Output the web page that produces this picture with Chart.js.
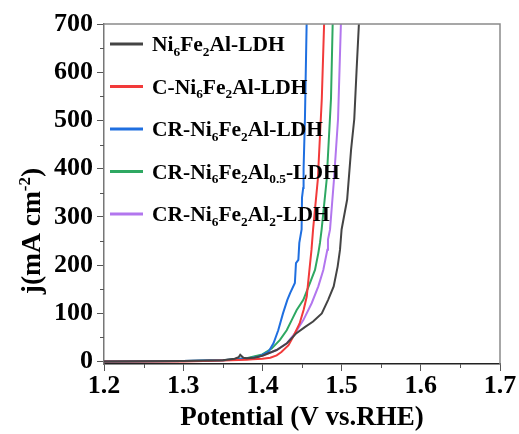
<!DOCTYPE html>
<html><head><meta charset="utf-8">
<script src="https://cdn.jsdelivr.net/npm/chart.js@4/dist/chart.umd.min.js"></script>
<style>html,body{margin:0;padding:0;background:#fff;}#wrap{width:519px;height:434px;}</style>
</head><body><div id="wrap"><canvas id="c" width="519" height="434"></canvas></div>
<script>
// ---- data ----
const seriesLabels = [
  "Ni_{6}Fe_{2}Al-LDH",
  "C-Ni_{6}Fe_{2}Al-LDH",
  "CR-Ni_{6}Fe_{2}Al-LDH",
  "CR-Ni_{6}Fe_{2}Al_{0.5}-LDH",
  "CR-Ni_{6}Fe_{2}Al_{2}-LDH"
];
const seriesColors = ["#444444", "#f23a3a", "#1f6fe0", "#2ea862", "#b276ee"];
const xTickValues = [1.2, 1.3, 1.4, 1.5, 1.6, 1.7];
const yTickValues = [0, 100, 200, 300, 400, 500, 600, 700];
const xTitle = "Potential (V vs.RHE)";
const yTitle = "j(mA cm^{-2})";

const ni_V = [1.20, 1.30, 1.35, 1.365, 1.370, 1.372, 1.376, 1.38, 1.39, 1.40, 1.418, 1.431, 1.443, 1.454, 1.464, 1.475, 1.483, 1.490, 1.495, 1.498, 1.500, 1.507, 1.512, 1.516, 1.519, 1.522];
const ni_J = [0, 1, 3, 6, 9, 14, 8, 7, 8, 12, 24, 38, 59, 72, 83, 100, 128, 156, 197, 232, 274, 336, 440, 503, 607, 705];

const c_V = [1.20, 1.30, 1.35, 1.38, 1.388, 1.40, 1.410, 1.418, 1.424, 1.433, 1.439, 1.447, 1.452, 1.456, 1.459, 1.462, 1.464, 1.470, 1.475, 1.478];
const c_J = [0, 0, 2, 4, 5, 6, 8, 13, 20, 34, 52, 79, 107, 135, 184, 232, 274, 378, 545, 705];

const cr_V = [1.20, 1.30, 1.35, 1.38, 1.395, 1.4075, 1.414, 1.420, 1.426, 1.4315, 1.435, 1.441, 1.4424, 1.4454, 1.4466, 1.4495, 1.4500, 1.4515, 1.4520, 1.4537, 1.4559];
const cr_J = [0, 1, 3, 6, 10, 20, 38, 65, 100, 128, 142, 163, 204, 211, 246, 274, 340, 360, 400, 503, 705];

const crA05_V = [1.20, 1.30, 1.35, 1.38, 1.40, 1.4117, 1.4222, 1.4307, 1.437, 1.4433, 1.4517, 1.4601, 1.4664, 1.4706, 1.4727, 1.4748, 1.4812, 1.4866, 1.4888];
const crA05_J = [0, 1, 3, 7, 15, 27, 45, 65, 86, 107, 128, 163, 190, 225, 246, 274, 378, 545, 705];

const crA2_V = [1.20, 1.30, 1.35, 1.3843, 1.4012, 1.418, 1.4307, 1.4412, 1.4517, 1.4622, 1.4706, 1.4769, 1.4820, 1.4828, 1.4854, 1.4904, 1.4955, 1.4992];
const crA2_J = [0, 1, 3, 8, 13, 24, 38, 59, 86, 121, 156, 190, 232, 253, 274, 378, 503, 705];

const seriesV = [ni_V, c_V, cr_V, crA05_V, crA2_V];
const seriesJ = [ni_J, c_J, cr_J, crA05_J, crA2_J];

// ---- helpers ----
const FONT = "'Liberation Serif', 'Times New Roman', serif";
function parseRich(str){
  const segs = []; const re = /([_^])\{([^}]*)\}/g; let last = 0, m;
  while ((m = re.exec(str))){
    if (m.index > last) segs.push({t: str.slice(last, m.index), k: null});
    segs.push({t: m[2], k: m[1] === '_' ? 'sub' : 'sup'});
    last = re.lastIndex;
  }
  if (last < str.length) segs.push({t: str.slice(last), k: null});
  return segs;
}
function richWidth(ctx, segs, size){
  let w = 0;
  for (const s of segs){
    ctx.font = "bold " + (s.k ? size*0.62 : size) + "px " + FONT;
    w += ctx.measureText(s.t).width;
  }
  return w;
}
function drawRich(ctx, str, x, y, size, align){
  const segs = parseRich(str);
  let cx = x;
  if (align === 'center') cx = x - richWidth(ctx, segs, size)/2;
  ctx.textBaseline = 'alphabetic'; ctx.textAlign = 'left';
  for (const s of segs){
    const sz = s.k ? size*0.62 : size;
    ctx.font = "bold " + sz + "px " + FONT;
    const dy = s.k === 'sub' ? size*0.22 : (s.k === 'sup' ? -size*0.38 : 0);
    ctx.fillText(s.t, cx, y + dy);
    cx += ctx.measureText(s.t).width;
  }
}

const datasets = seriesLabels.map((lab, i) => ({
  label: lab,
  data: seriesV[i].map((v, k) => ({x: v, y: seriesJ[i][k]})),
  borderColor: seriesColors[i],
  backgroundColor: seriesColors[i],
  borderWidth: 2,
  pointRadius: 0,
  tension: 0,
  fill: false
}));

const decor = {
  id: 'decor',
  afterDraw(chart){
    const ctx = chart.ctx, a = chart.chartArea;
    const xs = chart.scales.x, ys = chart.scales.y;
    ctx.save();
    // frame top/right
    ctx.strokeStyle = '#8a8a8a'; ctx.lineWidth = 1.5;
    ctx.beginPath();
    ctx.moveTo(a.left, a.top); ctx.lineTo(a.right, a.top); ctx.lineTo(a.right, a.bottom);
    ctx.stroke();
    // minor ticks
    ctx.strokeStyle = '#555'; ctx.lineWidth = 1;
    for (let i = 0; i < yTickValues.length - 1; i++){
      const v = (yTickValues[i] + yTickValues[i+1]) / 2;
      const py = Math.round(ys.getPixelForValue(v)) + 0.5;
      ctx.beginPath(); ctx.moveTo(a.left, py); ctx.lineTo(a.left - 4, py); ctx.stroke();
    }
    for (let i = 0; i < xTickValues.length - 1; i++){
      const v = (xTickValues[i] + xTickValues[i+1]) / 2;
      const px = Math.round(xs.getPixelForValue(v)) + 0.5;
      ctx.beginPath(); ctx.moveTo(px, a.bottom); ctx.lineTo(px, a.bottom + 4); ctx.stroke();
    }
    // legend
    chart.data.datasets.forEach((ds, i) => {
      const y = 44 + i * 42.5;
      ctx.strokeStyle = ds.borderColor; ctx.lineWidth = 3;
      ctx.beginPath(); ctx.moveTo(110, y); ctx.lineTo(143, y); ctx.stroke();
      ctx.fillStyle = '#000';
      drawRich(ctx, ds.label, 152, y + 7, 21.5, 'left');
    });
    // y title
    ctx.translate(40, 231); ctx.rotate(-Math.PI/2);
    ctx.fillStyle = '#000';
    drawRich(ctx, yTitle, 0, 0, 27.5, 'center');
    ctx.restore();
  }
};

new Chart(document.getElementById('c'), {
  type: 'line',
  data: { datasets },
  options: {
    responsive: false, animation: false, devicePixelRatio: 1,
    layout: { padding: { top: 24, right: 19, left: 0, bottom: 0 } },
    plugins: { legend: { display: false }, tooltip: { enabled: false } },
    scales: {
      x: {
        type: 'linear', min: xTickValues[0], max: xTickValues[xTickValues.length-1],
        afterBuildTicks: s => { s.ticks = xTickValues.map(v => ({value: v})); },
        afterFit: s => { s.height = 70; },
        ticks: { color: '#000', padding: 0, maxRotation: 0, autoSkip: false,
          font: { family: FONT, size: 26, weight: 'bold' },
          callback: v => Number(v).toFixed(1) },
        grid: { drawOnChartArea: false, drawTicks: true, tickLength: 7, tickColor: '#555', tickWidth: 1 },
        border: { color: '#222', width: 1.5 },
        title: { display: true, text: xTitle, color: '#000', padding: 0,
          font: { family: FONT, size: 27, weight: 'bold' } }
      },
      y: {
        type: 'linear', min: -5, max: 700,
        afterBuildTicks: s => { s.ticks = yTickValues.map(v => ({value: v})); },
        afterFit: s => { s.width = 104; },
        ticks: { color: '#000', padding: 4, autoSkip: false,
          font: { family: FONT, size: 26, weight: 'bold' } },
        grid: { drawOnChartArea: false, drawTicks: true, tickLength: 7, tickColor: '#555', tickWidth: 1 },
        border: { color: '#777', width: 1.5 }
      }
    }
  },
  plugins: [decor]
});
</script>
</body></html>
